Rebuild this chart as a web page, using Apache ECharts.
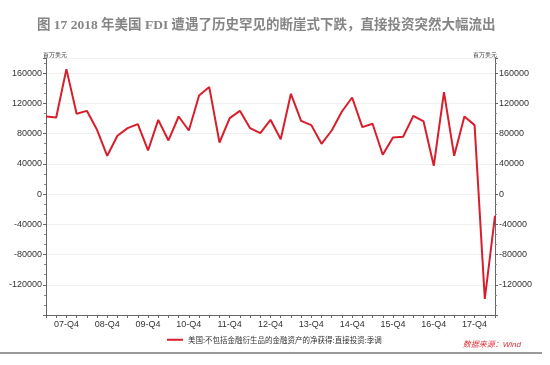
<!DOCTYPE html>
<html>
<head>
<meta charset="utf-8">
<script src="https://cdn.jsdelivr.net/npm/echarts@6/dist/echarts.min.js"></script>
<style>
  html, body { margin: 0; padding: 0; background: #fff; }
  #chart { width: 550px; height: 365px; }
</style>
</head>
<body>
<div id="chart"></div>
<script>
// 季度：07-Q2 到 18-Q2
const quarters = [];
for (let y = 7; y <= 18; y++) {
    for (let q = 1; q <= 4; q++) {
        if ((y === 7 && q < 2) || (y === 18 && q > 2)) continue;
        quarters.push(String(y).padStart(2, '0') + '-Q' + q);
    }
}

// 美国:不包括金融衍生品的金融资产的净获得:直接投资:季调（百万美元）
const fdiValues = [
    102600, 101300, 165300, 106200, 110100, 85000, 50600, 77100, 87200, 92500,
    57700, 98200, 70900, 102600, 84100, 130400, 141500, 68200, 100500, 110100,
    87200, 80600, 98200, 72500, 132600, 96900, 91200, 66500, 84100, 109200,
    127700, 88600, 93000, 52000, 74800, 75800, 103500, 96000, 37400, 134900,
    50600, 102600, 91200, -138800, -28700
];

const yTickLabels = [-120000, -80000, -40000, 0, 40000, 80000, 120000, 160000];

const seriesName = '美国:不包括金融衍生品的金融资产的净获得:直接投资:季调';
const lineColor = '#d81e2c';

const chart = echarts.init(document.getElementById('chart'));

function yAxisConf(pos) {
    return {
        type: 'value',
        position: pos,
        min: -160000,
        max: 180000,
        interval: 40000,
        name: '百万美元',
        nameLocation: 'end',
        nameGap: 0,
        nameTextStyle: {
            fontSize: 5.5,
            color: '#333',
            align: pos === 'left' ? 'left' : 'right',
            padding: pos === 'left' ? [0, 0, 0, -3] : [0, -2, 0, 0]
        },
        axisLine: { show: true, lineStyle: { color: '#666', width: 1 } },
        axisTick: { show: true, length: 3, lineStyle: { color: '#666' } },
        minorTick: { show: true, splitNumber: 3, length: 2, lineStyle: { color: '#888' } },
        axisLabel: {
            fontSize: 9,
            color: '#333',
            margin: 4,
            fontFamily: 'Liberation Sans, Arial, sans-serif',
            formatter: v => (yTickLabels.includes(v) ? String(v) : '')
        },
        splitLine: {
            show: pos === 'left',
            lineStyle: { color: '#f0f0f0', width: 1 }
        }
    };
}

const option = {
    backgroundColor: '#fff',
    animation: false,
    title: [{
        text: '图 17 2018 年美国 FDI 遭遇了历史罕见的断崖式下跌，直接投资突然大幅流出',
        left: 32,
        top: 14,
        textStyle: {
            fontSize: 13.5,
            fontWeight: 'bold',
            color: '#858585',
            fontFamily: 'Liberation Serif, Noto Sans CJK SC, serif'
        }
    }, {
        text: '数据来源：Wind',
        right: 24,
        top: 336,
        textStyle: {
            fontSize: 8,
            fontWeight: 'normal',
            fontStyle: 'italic',
            color: '#e0303a',
            fontFamily: 'Liberation Sans, Noto Sans CJK SC, sans-serif'
        }
    }],
    legend: {
        left: 162,
        top: 331,
        icon: 'rect',
        itemWidth: 16,
        itemHeight: 2,
        itemGap: 4,
        textStyle: {
            fontSize: 7.5,
            color: '#333',
            fontFamily: 'Noto Sans CJK SC, sans-serif'
        },
        data: [seriesName]
    },
    grid: {
        left: 46,
        right: 55,
        top: 58,
        height: 257
    },
    xAxis: {
        type: 'category',
        data: quarters,
        boundaryGap: false,
        axisLine: { onZero: false, lineStyle: { color: '#666', width: 1 } },
        axisTick: { show: true, interval: 0, length: 3, lineStyle: { color: '#666' } },
        axisLabel: {
            fontSize: 9,
            color: '#333',
            margin: 5,
            fontFamily: 'Liberation Sans, Arial, sans-serif',
            interval: (idx) => idx % 4 === 2
        },
        splitLine: { show: false }
    },
    yAxis: [yAxisConf('left'), yAxisConf('right')],
    series: [{
        name: seriesName,
        type: 'line',
        data: fdiValues,
        showSymbol: false,
        symbol: 'none',
        lineStyle: { color: lineColor, width: 2 },
        itemStyle: { color: lineColor }
    }],
    graphic: [{
        type: 'line',
        shape: { x1: 0, y1: 353, x2: 542, y2: 353 },
        style: { stroke: '#9a9a9a', lineWidth: 2 }
    }]
};

chart.setOption(option);
</script>
</body>
</html>
